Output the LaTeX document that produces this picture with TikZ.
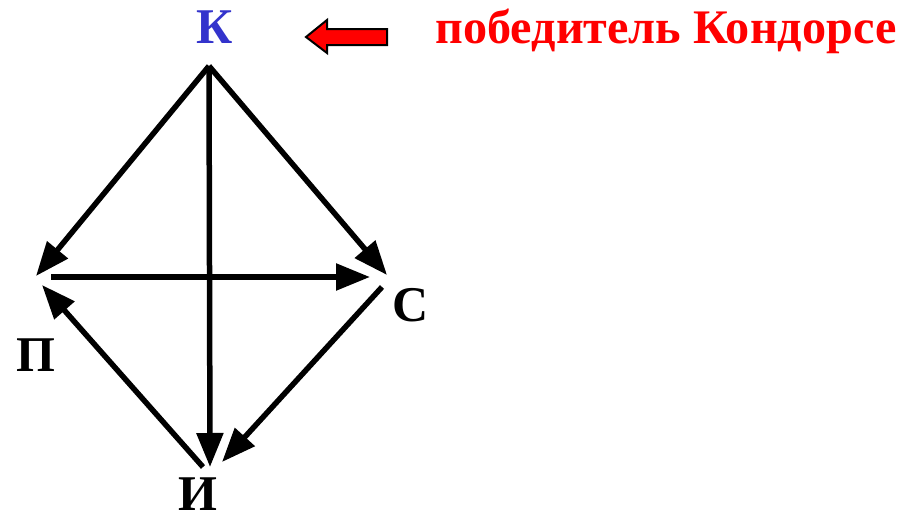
\documentclass[tikz,border=0pt]{standalone}
\usepackage{fontspec}
\setmainfont{Liberation Serif}
\usetikzlibrary{arrows.meta}
\definecolor{kblue}{RGB}{51,51,204}
\definecolor{kred}{RGB}{255,0,0}
\tikzset{
  edge/.style={line width=5.5pt,-{Triangle[length=34pt,width=26pt]}},
  lbl/.style={inner sep=0pt,anchor=base,font=\fontsize{50}{50}\selectfont\bfseries},
}
\begin{document}
\begin{tikzpicture}[x=1pt,y=-1pt]
\useasboundingbox (0,0) rectangle (902,514);
% vertices
\coordinate (apex) at (209,66);
\coordinate (pK) at (36,276);
\coordinate (cK) at (387,275);
\coordinate (iK) at (210,467);
\coordinate (pS) at (51,277);
\coordinate (cE) at (370,277);
\coordinate (cS) at (382,287);
\coordinate (iE) at (222,462);
\coordinate (iS) at (203,467);
\coordinate (pE) at (42,285);
% edges
\draw[edge] (apex) -- (pK);
\draw[edge] (apex) -- (cK);
\draw[edge] (apex) -- (iK);
\draw[edge] (pS) -- (cE);
\draw[edge] (cS) -- (iE);
\draw[edge] (iS) -- (pE);
% labels
\node[lbl,text=kblue] (K) at (214.5,43) {К};
\node[lbl] (P) at (36,371) {П};
\node[lbl] (S) at (411,321) {С};
\node[lbl] (I) at (197.5,510) {И};
\node[lbl,text=kred,font=\fontsize{48.2}{48.2}\selectfont\bfseries] (win) at (666,43) {победитель Кондорсе};
% block arrow
\draw[fill=kred,line width=2pt,line join=miter] (306,37) -- (327,20) -- (327,29) -- (387,29) -- (387,45) -- (327,45) -- (327,53) -- cycle;
\end{tikzpicture}
\end{document}
